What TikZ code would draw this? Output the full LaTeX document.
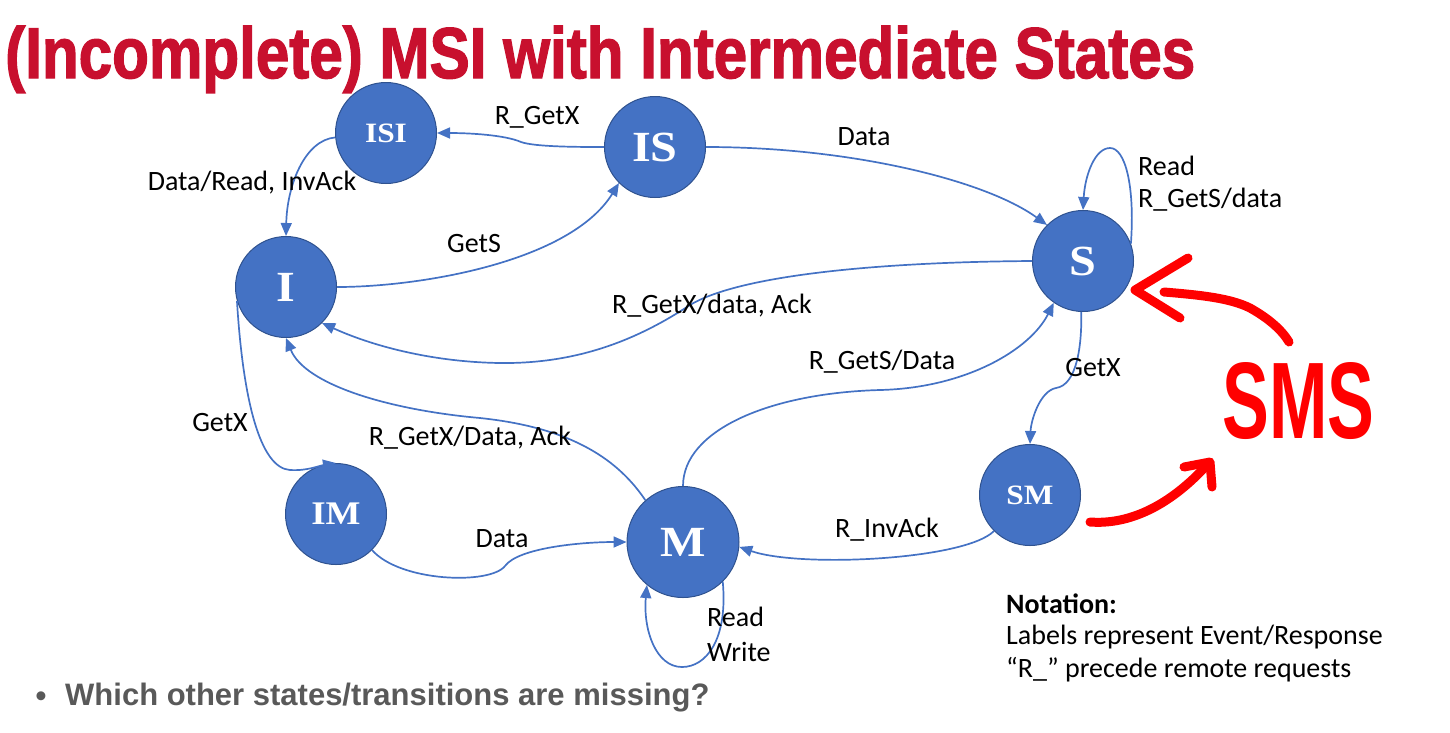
\documentclass[tikz,border=0pt]{standalone}
\usepackage{graphicx}
\usepackage{fontspec}
\setmainfont{Carlito}
\newfontfamily\statefont[FakeStretch=1.12]{Liberation Serif}
\newfontfamily\titlefont[FakeBold=2]{Liberation Sans}
\newfontfamily\arialfont{Liberation Sans}
\usetikzlibrary{arrows.meta,shapes.geometric}
\definecolor{nodeblue}{HTML}{4472C4}
\definecolor{nodeborder}{HTML}{2F528F}
\definecolor{titlered}{HTML}{C8102E}
\definecolor{bulletgray}{HTML}{595959}
\begin{document}
\begin{tikzpicture}[x=1pt,y=-1pt,
  state/.style={ellipse, fill=nodeblue, draw=nodeborder, line width=1pt, inner sep=0pt, text=white,
    minimum width=101pt, minimum height=101pt, font=\statefont\bfseries\fontsize{43}{43}\selectfont},
  smallstate/.style={font=\statefont\bfseries\fontsize{28}{28}\selectfont},
  midstate/.style={font=\statefont\bfseries\fontsize{33}{33}\selectfont},
  trans/.style={draw=nodeblue, line width=1.7pt, -{Triangle[length=13pt,width=11pt]}},
  lbl/.style={font=\fontsize{28}{33}\selectfont, inner sep=0pt},
  redpen/.style={draw=red, line width=9pt, line cap=round, line join=round}
]
\useasboundingbox (0,0) rectangle (1450,732);

% title
\node[anchor=base west, inner sep=0pt, text=titlered] (title) at (5,78)
  {\resizebox{1190pt}{\height}{\titlefont\bfseries\fontsize{72}{72}\selectfont (Incomplete) MSI with Intermediate States}};

% states
\node[state, smallstate] (ISI) at (386,133) {ISI};
\node[state] (IS) at (655,147) {IS};
\node[state] (I) at (286,287) {I};
\node[state] (S) at (1083,261) {S};
\node[state, midstate] (IM) at (336,514) {IM};
\node[state, minimum width=112pt, minimum height=111pt] (M) at (683,542) {M};
\node[state, smallstate] (SM) at (1030,495) {SM};

% transitions
\draw[trans] (IS.180) .. controls (580,147) and (535,147) .. (521,142) .. controls (505,135) and (470,133) .. (ISI.0);
\draw[trans] (ISI.185) .. controls (305,140) and (287,185) .. (I.90);
\draw[trans] (I.0) .. controls (420,287) and (570,262) .. (IS.225);
\draw[trans] (IS.0) .. controls (850,147) and (985,180) .. (S.135);
\draw[trans] (S.20) .. controls (1135,185) and (1125,148) .. (1110,148) .. controls (1095,148) and (1085,175) .. (S.90);
\draw[trans] (S.180) .. controls (880,262) and (740,275) .. (690,305) .. controls (640,338) and (580,364) .. (500,363) .. controls (430,362) and (370,345) .. (I.-45);
\draw[trans] (M.132) .. controls (615,455) and (565,427) .. (480,418) .. controls (390,410) and (305,385) .. (I.270);
\draw[trans] (I.196) .. controls (243,400) and (260,468) .. (290,470) .. controls (307,471) and (318,466) .. (IM.90);
\draw[trans] (IM.-45) .. controls (400,582) and (490,585) .. (505,566) .. controls (518,548) and (580,542) .. (M.180);
\draw[trans] (M.90) .. controls (683,430) and (770,393) .. (880,390) .. controls (965,388) and (1030,350) .. (S.235);
\draw[trans] (S.268) .. controls (1082,345) and (1077,385) .. (1056,388) .. controls (1040,391) and (1031,420) .. (SM.90);
\draw[trans] (SM.225) .. controls (965,560) and (800,568) .. (M.-5);
\draw[trans] (M.-45) .. controls (728,640) and (706,667) .. (682,667) .. controls (656,667) and (643,630) .. (M.230);

% labels
\node[lbl] (lRGetX) at (537,117) {R\_GetX};
\node[lbl] (lDataRead) at (252,183) {Data/Read, InvAck};
\node[lbl] (lGetS) at (474,244) {GetS};
\node[lbl] (lData1) at (864,137) {Data};
\node[lbl, anchor=west] (lRead) at (1138,166) {Read};
\node[lbl, anchor=west] (lRGetSdata) at (1138,200) {R\_GetS/data};
\node[lbl] (lRGetXdataAck) at (712,306) {R\_GetX/data, Ack};
\node[lbl] (lRGetSData) at (882,362) {R\_GetS/Data};
\node[lbl] (lGetX2) at (1093,368) {GetX};
\node[lbl] (lGetX1) at (220,423) {GetX};
\node[lbl] (lRGetXDataAck) at (470,438) {R\_GetX/Data, Ack};
\node[lbl] (lData2) at (502,539) {Data};
\node[lbl] (lRInvAck) at (887,530) {R\_InvAck};
\node[lbl, anchor=west] (lRead2) at (707,617) {Read};
\node[lbl, anchor=west] (lWrite) at (707,652) {Write};

% notation
\node[lbl, anchor=west, font=\bfseries\fontsize{28}{33}\selectfont] (nt) at (1006,604) {Notation:};
\node[lbl, anchor=west] (n1) at (1006,637) {Labels represent Event/Response};
\node[lbl, anchor=west] (n2) at (1006,670) {“R\_” precede remote requests};

% bottom bullet
\node[inner sep=0pt, text=bulletgray, font=\arialfont\bfseries\fontsize{31}{31}\selectfont] (bul) at (41,699) {•};
\node[anchor=west, inner sep=0pt, text=bulletgray, font=\arialfont\bfseries\fontsize{31}{31}\selectfont] (q) at (65,698) {Which other states/transitions are missing?};

% red annotations
\node[anchor=base west, inner sep=0pt, text=red] (sms) at (1222,438)
  {\resizebox{152pt}{76pt}{\arialfont\bfseries\fontsize{76}{76}\selectfont SMS}};
\draw[redpen] (1188,258) -- (1135,290) -- (1180,318);
\draw[redpen] (1164,292) .. controls (1200,295) and (1230,298) .. (1250,308) .. controls (1268,318) and (1282,330) .. (1289,342);
\draw[redpen] (1090,522) .. controls (1130,525) and (1170,505) .. (1206,466);
\draw[redpen] (1184,467) -- (1210,462) -- (1212,487);
\end{tikzpicture}
\end{document}
